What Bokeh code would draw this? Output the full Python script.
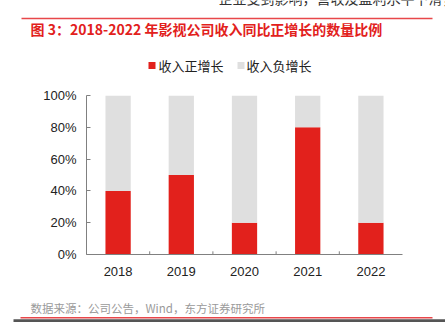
from bokeh.plotting import figure
from bokeh.layouts import column
from bokeh.models import Range1d, FixedTicker, CustomJSTickFormatter
from bokeh.core.properties import value
from bokeh.embed import file_html
from bokeh.resources import INLINE

years = ["2018", "2019", "2020", "2021", "2022"]
positive = [0.40, 0.50, 0.20, 0.80, 0.20]
negative = [0.60, 0.50, 0.80, 0.20, 0.80]
series_names = ["收入正增长", "收入负增长"]
y_ticks = [0, 0.2, 0.4, 0.6, 0.8, 1.0]
title_text = "图 3：2018-2022 年影视公司收入同比正增长的数量比例"
source_text = "数据来源：公司公告，Wind，东方证券研究所"
top_text = "企业受到影响，营收及盈利水平下滑，行业景气度下降"

RED = "#E2211C"
GRAY = "#DFDFDF"
LINE_RED = "#E8474A"
CJK = "Noto Sans CJK SC"
LAT = "Liberation Sans"
W = 445
H_HEAD, H_MAIN, H_FOOT = 85, 205, 32


def no_align(f):
    try:
        f.frame_align = False
    except Exception:
        pass


def blank(h, y0):
    f = figure(width=W, height=h, x_range=Range1d(0, W), y_range=Range1d(y0 + h, y0),
               output_backend="svg", toolbar_location=None,
               x_axis_location=None, y_axis_location=None, min_border=0)
    f.outline_line_color = None
    f.grid.grid_line_color = None
    f.background_fill_color = "white"
    f.border_fill_color = "white"
    no_align(f)
    return f


def txt(f, x, y, text, size, color, font=CJK, style="normal"):
    f.text(x=[x], y=[y], text=[text], text_font=value(font), text_font_size=size,
           text_color=color, text_font_style=style, text_align="left", text_baseline="middle")


# ---------- header ----------
head = blank(H_HEAD, 0)
txt(head, 218, -3, top_text, "14px", "#333333")
head.segment(x0=[21], y0=[18], x1=[432], y1=[18], line_color=LINE_RED, line_width=1.5)
txt(head, 30, 28, title_text, "14px", RED, style="bold")
head.rect(x=[151.5, 240.5], y=[65, 65], width=7, height=7, fill_color=[RED, GRAY], line_color=None)
txt(head, 158, 65, series_names[0], "13px", "#222222")
txt(head, 246, 65, series_names[1], "13px", "#222222")

# ---------- main chart ----------
FL, FR, FT, FB = 86, 402, 95, 254
n = len(years)
p = figure(width=W, height=H_MAIN, x_range=Range1d(-0.5, n - 0.5), y_range=Range1d(0, 1),
           output_backend="svg", toolbar_location=None,
           min_border_left=FL, min_border_right=W - FR, min_border_top=FT - H_HEAD,
           min_border_bottom=H_HEAD + H_MAIN - FB)
no_align(p)
idx = list(range(n))
data = {"x": idx, "pos": positive, "neg": negative}
p.vbar_stack(["pos", "neg"], x="x", width=0.4, color=[RED, GRAY], source=data, line_width=0)

p.outline_line_color = None
p.grid.grid_line_color = None
p.background_fill_color = "white"
p.border_fill_color = "white"

ya = p.yaxis[0]
ya.ticker = FixedTicker(ticks=y_ticks)
ya.formatter = CustomJSTickFormatter(code="return Math.round(tick*100) + '%';")
ya.axis_line_color = "#808080"
ya.major_tick_line_color = "#808080"
ya.major_tick_in = 4
ya.major_tick_out = 0
ya.minor_tick_line_color = None
ya.major_label_text_font = LAT
ya.major_label_text_font_size = "13px"
ya.major_label_text_color = "#222222"
ya.major_label_standoff = 10

xa = p.xaxis[0]
xa.ticker = FixedTicker(ticks=idx)
xa.major_label_overrides = {i: y for i, y in zip(idx, years)}
xa.axis_line_color = "#808080"
xa.major_tick_line_color = None
xa.minor_tick_line_color = None
xa.major_label_text_font = LAT
xa.major_label_text_font_size = "13px"
xa.major_label_text_color = "#222222"
xa.major_label_standoff = 6

bx = [i + 0.5 for i in idx[:-1]]
p.segment(x0=bx, y0=[0] * len(bx), x1=bx, y1=[0.02] * len(bx), line_color="#808080", line_width=1)

# ---------- footer ----------
foot = blank(H_FOOT, H_HEAD + H_MAIN)
txt(foot, 30, 307, source_text, "11.5px", "#9A9A9A")
foot.segment(x0=[20], y0=[317.3], x1=[432], y1=[317.3], line_color=LINE_RED, line_width=1.5)
foot.quad(left=[13], right=[445], top=[318.8], bottom=[322], fill_color="#555555", line_color=None)

layout = column(head, p, foot, spacing=0)
open("out.html", "w").write(file_html(layout, INLINE))
